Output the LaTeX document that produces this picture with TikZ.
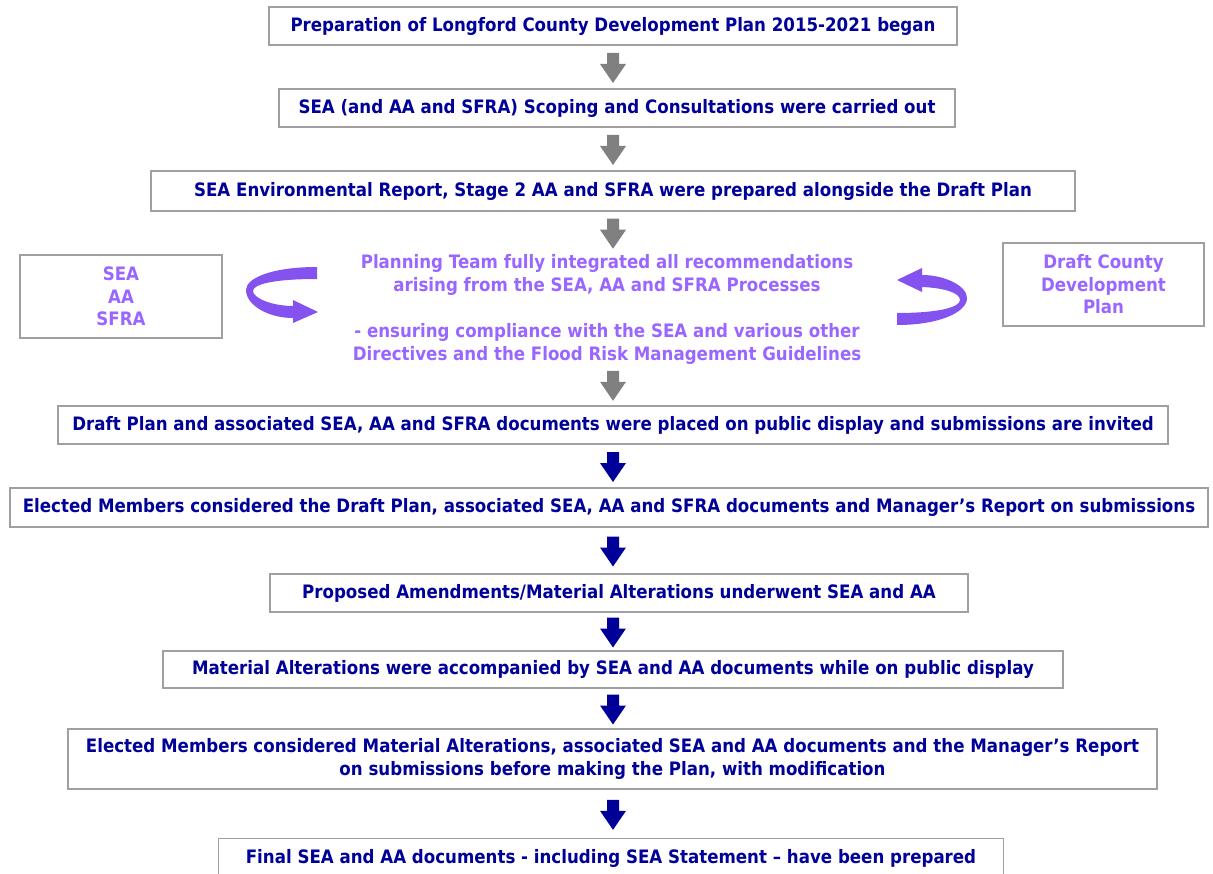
\documentclass[tikz,border=0pt]{standalone}
\usepackage{fontspec}
\setmainfont{DejaVu Sans}[FakeStretch=0.9]
\usetikzlibrary{calc}
\definecolor{navy}{HTML}{000099}
\definecolor{lilac}{HTML}{9966FF}
\definecolor{lilacarrow}{HTML}{8452EE}
\definecolor{boxgray}{HTML}{A0A0A0}
\definecolor{arrowgray}{HTML}{808080}
\tikzset{
  stepbox/.style={draw=boxgray, line width=1.4pt, fill=white, text=navy,
    font=\fontsize{18.5}{23}\selectfont\bfseries, align=center, inner sep=0pt},
  sidebox/.style={draw=boxgray, line width=1.4pt, fill=white, text=lilac,
    font=\fontsize{18.5}{22.5}\selectfont\bfseries, align=center, inner sep=0pt,
    minimum height=83pt},
  midtext/.style={text=lilac, font=\fontsize{18.5}{23}\selectfont\bfseries,
    align=center, inner sep=0pt}
}
\newcommand\blockarrow[3]{%
  \fill[#3] let \p1=(#1.south), \p2=(#2.north), \n1={(\y1+\y2)/2-1pt} in
    (607pt,\n1+15pt) -- (619pt,\n1+15pt) -- (619pt,\n1+4pt) -- (626pt,\n1+4pt)
    -- (613pt,\n1-15pt) -- (600pt,\n1+4pt) -- (607pt,\n1+4pt) -- cycle;}
\begin{document}
\begin{tikzpicture}[x=1pt,y=-1pt]
\useasboundingbox (0,0) rectangle (1213,874);
\node[stepbox, minimum width=688pt, minimum height=38pt] (b1) at (613,26)
  {Preparation of Longford County Development Plan 2015-2021 began};
\node[stepbox, minimum width=676pt, minimum height=38pt] (b2) at (617,108)
  {SEA (and AA and SFRA) Scoping and Consultations were carried out};
\node[stepbox, minimum width=924pt, minimum height=40pt] (b3) at (613,191)
  {SEA Environmental Report, Stage 2 AA and SFRA were prepared alongside the Draft Plan};
\node[sidebox, minimum width=202pt] (sl) at (121,296.5) {SEA\\AA\\SFRA};
\node[sidebox, minimum width=201pt] (sr) at (1103.5,284.5) {Draft County\\Development\\Plan};
\node[midtext, minimum height=104pt] (mid) at (607,309)
  {Planning Team fully integrated all recommendations\\
   arising from the SEA, AA and SFRA Processes\\[23pt]
   - ensuring compliance with the SEA and various other\\
   Directives and the Flood Risk Management Guidelines};
\node[stepbox, minimum width=1110pt, minimum height=38pt] (b7) at (613,425)
  {Draft Plan and associated SEA, AA and SFRA documents were placed on public display and submissions are invited};
\node[stepbox, minimum width=1198pt, minimum height=39pt] (b8) at (609,507.5)
  {Elected Members considered the Draft Plan, associated SEA, AA and SFRA documents and Manager’s Report on submissions};
\node[stepbox, minimum width=698pt, minimum height=38pt] (b9) at (619,593)
  {Proposed Amendments/Material Alterations underwent SEA and AA};
\node[stepbox, minimum width=900pt, minimum height=37pt] (b10) at (613,669.5)
  {Material Alterations were accompanied by SEA and AA documents while on public display};
\node[stepbox, minimum width=1089pt, minimum height=60pt] (b11) at (612.5,759)
  {Elected Members considered Material Alterations, associated SEA and AA documents and the Manager’s Report\\
   on submissions before making the Plan, with modification};
\node[stepbox, minimum width=785pt, minimum height=40pt, anchor=north] (b12) at (611,838)
  {Final SEA and AA documents - including SEA Statement – have been prepared};
\blockarrow{b1}{b2}{arrowgray}
\blockarrow{b2}{b3}{arrowgray}
\blockarrow{b3}{mid}{arrowgray}
\blockarrow{mid}{b7}{arrowgray}
\blockarrow{b7}{b8}{navy}
\blockarrow{b8}{b9}{navy}
\blockarrow{b9}{b10}{navy}
\blockarrow{b10}{b11}{navy}
\blockarrow{b11}{b12}{navy}
% curved arrows
\fill[lilacarrow] (317,267) .. controls (272,267) and (246,278) .. (246,290)
  .. controls (246,305) and (268,318) .. (293,318) -- (293,323) -- (318,312)
  -- (293,300) -- (293,306) .. controls (272,306) and (253,298) .. (253,291)
  .. controls (253,284) and (275,279) .. (317,279) -- cycle;
\fill[lilacarrow] (897,325) .. controls (940,325) and (967,312) .. (967,298)
  .. controls (967,286) and (945,275) .. (922,275) -- (922,268) -- (897,280)
  -- (922,292) -- (922,287) .. controls (945,288) and (960,293) .. (960,300)
  .. controls (960,307) and (940,313) .. (897,313) -- cycle;
\end{tikzpicture}
\end{document}
